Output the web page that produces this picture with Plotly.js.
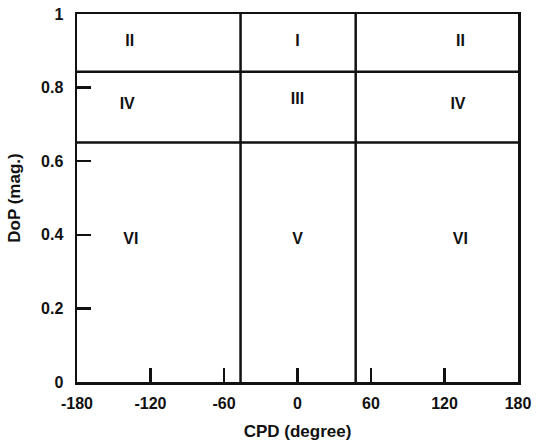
<!DOCTYPE html>
<html>
<head>
<meta charset="utf-8">
<script src="https://cdn.plot.ly/plotly-3.0.1.min.js"></script>
<style>html,body{margin:0;padding:0;background:#fff;}#chart{width:538px;height:442px;}</style>
</head>
<body>
<div id="chart"></div>
<script>
// Region boundaries
const vLinesX = [-46.5, 47.5];
const hLinesY = [0.843, 0.651];
// Region labels
const regionLabels = ["II", "I", "II", "IV", "III", "IV", "VI", "V", "VI"];
const labelX = [-137, 0, 133, -139, 0, 131, -136, 0, 133];
const labelY = [0.924, 0.924, 0.924, 0.753, 0.766, 0.753, 0.386, 0.386, 0.386];
// Axis ticks
const xTicks = [-180, -120, -60, 0, 60, 120, 180];
const yTicks = [0, 0.2, 0.4, 0.6, 0.8, 1];
const xRange = [-180, 180];
const yRange = [0, 1];

const fam = 'Liberation Sans, Arial, sans-serif';
const lineStyle = {color: '#111', width: 2.5};
const traces = [];
vLinesX.forEach(x => traces.push({x: [x, x], y: yRange, mode: 'lines', line: lineStyle, hoverinfo: 'skip', showlegend: false}));
hLinesY.forEach(y => traces.push({x: xRange, y: [y, y], mode: 'lines', line: lineStyle, hoverinfo: 'skip', showlegend: false}));
traces.push({
  x: labelX, y: labelY, text: regionLabels, mode: 'text',
  textfont: {family: fam, size: 16, color: '#111', weight: 'bold'},
  textposition: 'middle center', showlegend: false, hoverinfo: 'skip'
});

const tickFont = {family: fam, size: 16, color: '#111', weight: 'bold'};
const titleFont = {family: fam, size: 17, color: '#111', weight: 'bold'};
const layout = {
  width: 538, height: 442,
  margin: {l: 77, r: 20, t: 14, b: 60},
  paper_bgcolor: '#fff', plot_bgcolor: '#fff',
  font: tickFont,
  xaxis: {
    range: xRange, tickvals: xTicks, ticktext: xTicks.map(String),
    ticks: 'inside', ticklen: 14, tickwidth: 2.5, tickcolor: '#111',
    showline: true, linecolor: '#111', linewidth: 2.5, mirror: true,
    showgrid: false, zeroline: false, ticklabelstandoff: 5,
    tickfont: tickFont,
    title: {text: 'CPD (degree)', font: titleFont, standoff: 15}
  },
  yaxis: {
    range: yRange, tickvals: yTicks, ticktext: yTicks.map(String),
    ticks: 'inside', ticklen: 14, tickwidth: 2.5, tickcolor: '#111',
    showline: true, linecolor: '#111', linewidth: 2.5, mirror: true,
    showgrid: false, zeroline: false, ticklabelstandoff: 8,
    tickfont: tickFont,
    title: {text: 'DoP (mag.)', font: titleFont, standoff: 16}
  }
};
Plotly.newPlot('chart', traces, layout, {displayModeBar: false, staticPlot: true});
</script>
</body>
</html>
